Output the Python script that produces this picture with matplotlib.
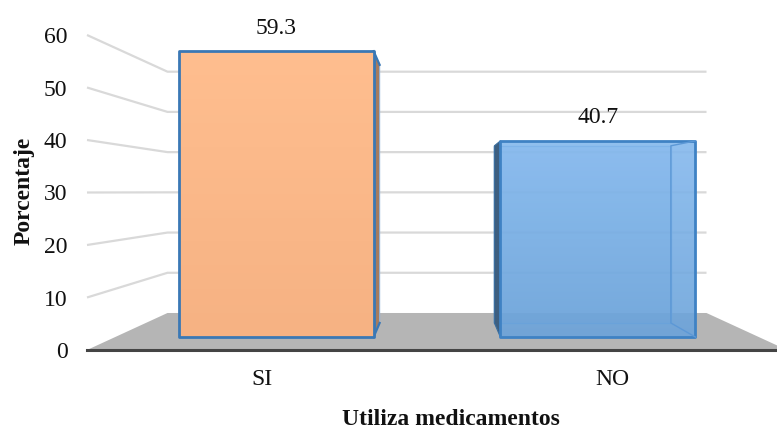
import numpy as np
import matplotlib
matplotlib.use('Agg')
import matplotlib.pyplot as plt
from matplotlib.patches import Polygon

plt.rcParams['font.family'] = ['Liberation Serif', 'DejaVu Serif']

categories = ['SI', 'NO']
values = [59.3, 40.7]
y_ticks = [0, 10, 20, 30, 40, 50, 60]
x_label = 'Utiliza medicamentos'
y_label = 'Porcentaje'

# depth of the 3D box: 0 is the front edge, 1 is the back wall
BACK_WIDTH = 0.77
BACK_BASE = 7.05
BACK_SCALE = 0.766
BAR_FRONT = 0.35
BAR_BACK = 0.73
BAR_WIDTH = 0.606


def project(x, y, depth):
    '''
    Project a point of the box onto the flat axes.
    :param x: category position, the box runs from 0 to 2
    :param y: value on the y scale
    :param depth: 0 at the front, 1 at the back wall
    :return: x and y in axes data
    '''
    px = 1 + (x - 1) * (1 - (1 - BACK_WIDTH) * depth)
    py = BACK_BASE * depth + y * (1 - (1 - BACK_SCALE) * depth)
    return px, py


def face(ax, corners, top, bottom, alpha=1.0, edge='#3A78B5', lw=2.0, zorder=3):
    '''
    Draw one face with a soft vertical colour gradient, clipped to its corners.
    '''
    poly = Polygon(corners, closed=True, facecolor='none', edgecolor=edge,
                   linewidth=lw, zorder=zorder + 0.1, joinstyle='round')
    ax.add_patch(poly)
    xs = [c[0] for c in corners]
    ys = [c[1] for c in corners]
    grad = np.linspace(0, 1, 256).reshape(-1, 1, 1)
    rgb = (1 - grad) * np.array(matplotlib.colors.to_rgb(bottom)) + grad * np.array(matplotlib.colors.to_rgb(top))
    im = ax.imshow(rgb, origin='lower', aspect='auto', alpha=alpha, zorder=zorder,
                   interpolation='bilinear', extent=(min(xs), max(xs), min(ys), max(ys)))
    clip = Polygon(corners, closed=True, transform=ax.transData)
    im.set_clip_path(clip)


fig = plt.figure(figsize=(7.77, 4.30), dpi=100)
# front edge of the box: x 87-787 px, value 0 at y 350 px, 60 at y 35 px
ax = fig.add_axes([87 / 777, (430 - 350) / 430, 700 / 777, 315 / 430])
ax.patch.set_visible(False)

# floor
floor = [project(0, 0, 0), project(2, 0, 0), project(2, 0, 1), project(0, 0, 1)]
ax.add_patch(Polygon(floor, closed=True, facecolor='#B5B5B5', edgecolor='none', zorder=1, clip_on=False))

# side wall and back wall gridlines
for v in y_ticks[1:]:
    x0, y0 = project(0, v, 0)
    x1, y1 = project(0, v, 1)
    x2, y2 = project(2, v, 1)
    ax.plot([x0, x1, x2], [y0, y1, y2], color='#D9D9D9', linewidth=1.6, zorder=2,
            clip_on=False, solid_capstyle='butt')

# SI bar is solid, NO bar lets the gridlines show through
x_pos = [0.5, 1.5]
xl, xr = x_pos[0] - BAR_WIDTH / 2, x_pos[0] + BAR_WIDTH / 2
v = values[0]
face(ax, [project(xr, 0, BAR_FRONT), project(xr, 0, BAR_BACK), project(xr, v, BAR_BACK), project(xr, v, BAR_FRONT)],
     '#A67C5E', '#A67C5E', edge='#8FB4DC', lw=0.8, zorder=3)
face(ax, [project(xl, 0, BAR_FRONT), project(xr, 0, BAR_FRONT), project(xr, v, BAR_FRONT), project(xl, v, BAR_FRONT)],
     '#FFBE8F', '#F6B283', zorder=4)
# slanted top edge of the side face
ax.plot(*zip(project(xr, v, BAR_FRONT), project(xr, v, BAR_BACK)), color='#3A78B5', linewidth=1.6, zorder=3.5)
ax.plot(*zip(project(xr, 0, BAR_FRONT), project(xr, 0, BAR_BACK)), color='#3A78B5', linewidth=1.6, zorder=3.5)

xl, xr = x_pos[1] - BAR_WIDTH / 2, x_pos[1] + BAR_WIDTH / 2
v = values[1]
blue_edge = '#5C98D6'
face(ax, [project(xl, 0, BAR_BACK), project(xr, 0, BAR_BACK), project(xr, v, BAR_BACK), project(xl, v, BAR_BACK)],
     '#80B5EA', '#659CD2', alpha=0.35, edge=blue_edge, lw=1.0, zorder=3)
face(ax, [project(xl, 0, BAR_FRONT), project(xl, 0, BAR_BACK), project(xl, v, BAR_BACK), project(xl, v, BAR_FRONT)],
     '#3E5F80', '#3E5F80', edge='#3A6E9F', lw=0.8, zorder=3.2)
face(ax, [project(xl, 0, BAR_FRONT), project(xr, 0, BAR_FRONT), project(xr, v, BAR_FRONT), project(xl, v, BAR_FRONT)],
     '#85B9EE', '#6BA3DA', alpha=0.9, edge='#3F82C4', zorder=4)
ax.plot(*zip(project(xr, 0, BAR_FRONT), project(xr, 0, BAR_BACK), project(xr, v, BAR_BACK), project(xr, v, BAR_FRONT)),
        color=blue_edge, linewidth=1.0, zorder=4.3)

# value labels
for x, v in zip(x_pos, values):
    px, py = project(x, v, BAR_FRONT)
    ax.text(px, py + 2.4, '%.1f' % v, ha='center', va='bottom', fontsize=17, color='#111111', zorder=6)

ax.set_xlim(0, 2)
ax.set_ylim(0, 60)
for s in ax.spines.values():
    s.set_visible(False)
ax.spines['bottom'].set_visible(True)
ax.spines['bottom'].set_color('#444444')
ax.spines['bottom'].set_linewidth(2.2)
ax.spines['bottom'].set_zorder(5)

ax.set_yticks(y_ticks)
ax.set_xticks(x_pos)
ax.set_xticklabels(categories)
ax.tick_params(axis='both', length=0, labelsize=17, labelcolor='#111111')
ax.tick_params(axis='y', pad=14)
ax.tick_params(axis='x', pad=14)

fig.text(451 / 777, 1 - 425 / 430, x_label, ha='center', va='baseline',
         fontsize=17, fontweight='bold', color='#111111')
fig.text(24 / 777, 1 - 191 / 430, y_label, ha='center', va='center', rotation=90,
         fontsize=17, fontweight='bold', color='#111111')

plt.savefig('out.png', dpi=100)
